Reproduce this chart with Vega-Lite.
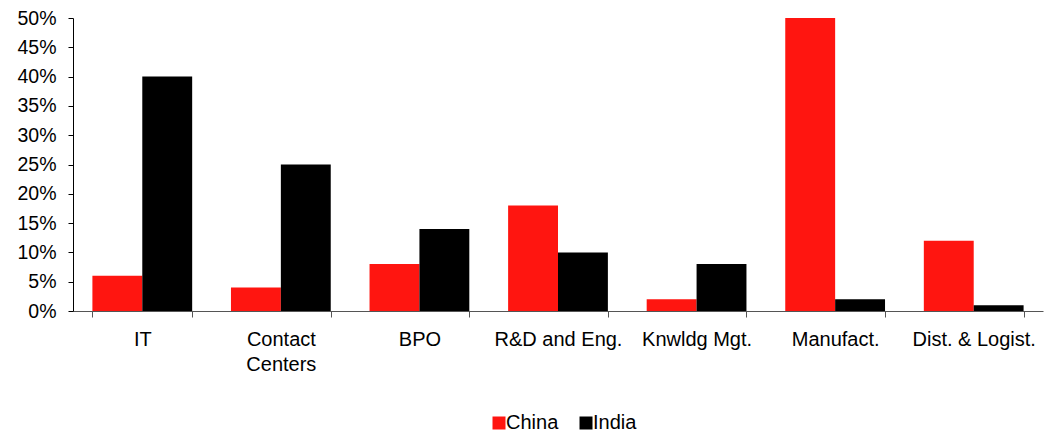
{
  "$schema": "https://vega.github.io/schema/vega-lite/v6.json",
  "width": 970,
  "height": 293,
  "autosize": "none",
  "padding": {"left": 73, "top": 18, "right": 9, "bottom": 121},
  "background": "white",
  "config": {
    "view": {"stroke": null},
    "font": "Liberation Sans",
    "axis": {"labelFont": "Liberation Sans", "labelColor": "#000000", "grid": false}
  },
  "data": {
    "values": [
      {"category": "IT", "country": "China", "share": 0.06},
      {"category": "IT", "country": "India", "share": 0.40},
      {"category": "Contact Centers", "country": "China", "share": 0.04},
      {"category": "Contact Centers", "country": "India", "share": 0.25},
      {"category": "BPO", "country": "China", "share": 0.08},
      {"category": "BPO", "country": "India", "share": 0.14},
      {"category": "R&D and Eng.", "country": "China", "share": 0.18},
      {"category": "R&D and Eng.", "country": "India", "share": 0.10},
      {"category": "Knwldg Mgt.", "country": "China", "share": 0.02},
      {"category": "Knwldg Mgt.", "country": "India", "share": 0.08},
      {"category": "Manufact.", "country": "China", "share": 0.50},
      {"category": "Manufact.", "country": "India", "share": 0.02},
      {"category": "Dist. & Logist.", "country": "China", "share": 0.12},
      {"category": "Dist. & Logist.", "country": "India", "share": 0.01}
    ]
  },
  "mark": {"type": "bar"},
  "encoding": {
    "x": {
      "field": "category",
      "type": "nominal",
      "sort": null,
      "scale": {"paddingInner": 0.28, "paddingOuter": 0.14},
      "axis": {
        "title": null,
        "labelAngle": 0,
        "labelFontSize": 20,
        "labelPadding": 12,
        "labelLineHeight": 25,
        "labelBaseline": "top",
        "labelExpr": "datum.label == 'Contact Centers' ? ['Contact', 'Centers'] : datum.label",
        "tickBand": "extent",
        "tickSize": 6,
        "tickColor": "#555555",
        "domainColor": "#555555"
      }
    },
    "xOffset": {"field": "country", "type": "nominal", "sort": ["China", "India"], "scale": {"paddingInner": 0, "paddingOuter": 0}},
    "y": {
      "field": "share",
      "type": "quantitative",
      "scale": {"domain": [0, 0.5], "nice": false},
      "axis": {
        "title": null,
        "format": ".0%",
        "labelFontSize": 19.5,
        "values": [0, 0.05, 0.1, 0.15, 0.2, 0.25, 0.3, 0.35, 0.4, 0.45, 0.5],
        "tickSize": 5,
        "labelPadding": 12,
        "tickColor": "#000000",
        "domainColor": "#000000"
      }
    },
    "color": {
      "field": "country",
      "type": "nominal",
      "sort": ["China", "India"],
      "scale": {"domain": ["China", "India"], "range": ["#FF1510", "#000000"]},
      "legend": {
        "title": null,
        "orient": "none",
        "direction": "horizontal",
        "legendX": 416,
        "legendY": 395,
        "symbolType": "square",
        "symbolSize": 169,
        "symbolStrokeWidth": 0,
        "labelFont": "Liberation Sans",
        "labelFontSize": 20,
        "labelColor": "#000000",
        "labelOffset": -3,
        "columnPadding": 17
      }
    }
  }
}
